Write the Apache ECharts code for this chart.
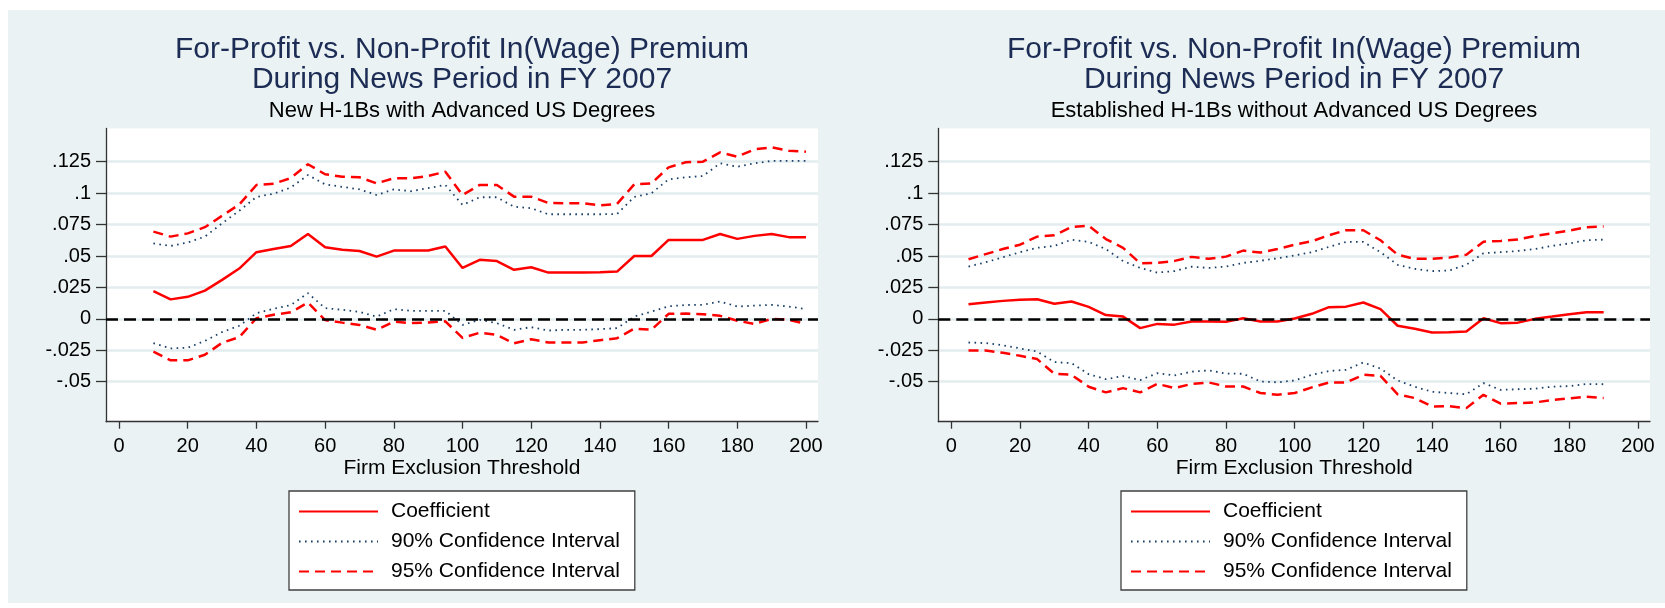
<!DOCTYPE html>
<html>
<head>
<meta charset="utf-8">
<script src="https://cdn.jsdelivr.net/npm/echarts@6/dist/echarts.min.js"></script>
<style>
  html, body { margin: 0; padding: 0; background: #fff; }
  #bg { position: absolute; left: 8px; top: 10px; width: 1657px; height: 593px; background: #eaf2f3; }
  #chart { position: absolute; left: 0; top: 0; width: 1665px; height: 608px; }
</style>
</head>
<body>
<div id="bg"></div>
<div id="chart"></div>
<script>
// thresholds and estimates
const leftX = [10, 15, 20, 25, 30, 35, 40, 45, 50, 55, 60, 65, 70, 75, 80, 85, 90, 95, 100, 105,
  110, 115, 120, 125, 130, 135, 140, 145, 150, 155, 160, 165, 170, 175, 180, 185, 190, 195, 200];
const leftCoef = [0.022, 0.0155, 0.0175, 0.0225, 0.031, 0.040, 0.053, 0.0555, 0.058, 0.0675,
  0.057, 0.055, 0.054, 0.0495, 0.0543, 0.0543, 0.0543, 0.0575, 0.0405, 0.047,
  0.046, 0.039, 0.041, 0.0368, 0.0368, 0.0368, 0.037, 0.0376, 0.05, 0.05,
  0.0628, 0.0628, 0.0628, 0.0675, 0.0636, 0.066, 0.0675, 0.065, 0.065];
const leftHi95 = [0.0694, 0.0654, 0.068, 0.0729, 0.082, 0.091, 0.1065, 0.1075, 0.112, 0.123,
  0.115, 0.113, 0.1126, 0.1078, 0.1118, 0.1118, 0.1136, 0.117, 0.0985, 0.1065,
  0.1065, 0.0972, 0.0972, 0.0922, 0.092, 0.0919, 0.0903, 0.0914, 0.107, 0.1078,
  0.1205, 0.1245, 0.125, 0.1324, 0.129, 0.1348, 0.1364, 0.1337, 0.133];
const leftLo95 = [-0.026, -0.033, -0.033, -0.0286, -0.019, -0.0145, 0.0005, 0.0033, 0.0052, 0.013,
  -0.001, -0.003, -0.0048, -0.0087, -0.0022, -0.0034, -0.0029, -0.002, -0.0152, -0.011,
  -0.0127, -0.0195, -0.0162, -0.0188, -0.0188, -0.0188, -0.017, -0.0154, -0.0078, -0.0087,
  0.004, 0.0042, 0.0037, 0.0024, -0.0015, -0.004, 0, -0.0008, -0.004];
const leftHi90 = [0.060, 0.058, 0.0607, 0.0654, 0.076, 0.086, 0.097, 0.0995, 0.1045, 0.1144,
  0.107, 0.105, 0.103, 0.0985, 0.103, 0.1015, 0.104, 0.1065, 0.0906, 0.0967,
  0.0967, 0.0892, 0.088, 0.0832, 0.0832, 0.0832, 0.0832, 0.0834, 0.097, 0.0999,
  0.111, 0.1126, 0.1136, 0.1237, 0.121, 0.1237, 0.1256, 0.1256, 0.1256];
const leftLo90 = [-0.0193, -0.0235, -0.023, -0.0175, -0.0105, -0.0055, 0.0045, 0.008, 0.011, 0.0204,
  0.0085, 0.0072, 0.0055, 0.0018, 0.0077, 0.0064, 0.0064, 0.0064, -0.0048, -0.0008,
  -0.0034, -0.0087, -0.0066, -0.0093, -0.0087, -0.0087, -0.0082, -0.0074, 0.0018, 0.0058,
  0.01, 0.011, 0.0112, 0.0138, 0.0098, 0.0105, 0.0111, 0.0098, 0.0077];

const rightX = [5, 10, 15, 20, 25, 30, 35, 40, 45, 50, 55, 60, 65, 70, 75, 80, 85, 90, 95, 100,
  105, 110, 115, 120, 125, 130, 135, 140, 145, 150, 155, 160, 165, 170, 175, 180, 185, 190];
const rightCoef = [0.0117, 0.013, 0.0143, 0.0152, 0.0156, 0.012, 0.0138, 0.0095, 0.003, 0.0018,
  -0.0074, -0.004, -0.0046, -0.0021, -0.0021, -0.0024, 0.0005, -0.0021, -0.0021, 0.0003,
  0.004, 0.0093, 0.0097, 0.013, 0.0077, -0.0055, -0.0079, -0.0108, -0.0106, -0.0101,
  0.0005, -0.0034, -0.003, 0, 0.0018, 0.0037, 0.0053, 0.0053];
const rightHi95 = [0.0474, 0.0515, 0.0555, 0.059, 0.0654, 0.0665, 0.073, 0.074, 0.0635, 0.0565,
  0.0442, 0.0445, 0.0461, 0.0493, 0.0478, 0.0495, 0.0543, 0.0527, 0.0555, 0.059,
  0.0617, 0.0665, 0.0705, 0.0705, 0.0625, 0.051, 0.0477, 0.0478, 0.0487, 0.051,
  0.0614, 0.062, 0.0632, 0.066, 0.068, 0.0702, 0.0729, 0.0734];
const rightLo95 = [-0.0252, -0.0252, -0.027, -0.0294, -0.032, -0.0437, -0.0445, -0.054, -0.0585, -0.0551,
  -0.0585, -0.0517, -0.0551, -0.0517, -0.0506, -0.0538, -0.0538, -0.059, -0.0604, -0.059,
  -0.0545, -0.0506, -0.0506, -0.0445, -0.0453, -0.06, -0.063, -0.0697, -0.0695, -0.071,
  -0.0604, -0.0675, -0.067, -0.0665, -0.0645, -0.0632, -0.062, -0.063];
const rightHi90 = [0.0416, 0.045, 0.049, 0.053, 0.0565, 0.058, 0.063, 0.0612, 0.0555, 0.046,
  0.0405, 0.0368, 0.038, 0.0415, 0.0405, 0.0416, 0.0445, 0.0462, 0.0482, 0.0505,
  0.053, 0.0573, 0.0612, 0.0612, 0.053, 0.043, 0.0398, 0.038, 0.0385, 0.043,
  0.0522, 0.053, 0.054, 0.0556, 0.058, 0.06, 0.0625, 0.063];
const rightLo90 = [-0.0188, -0.0193, -0.021, -0.0235, -0.026, -0.0344, -0.0352, -0.044, -0.048, -0.0455,
  -0.0487, -0.0432, -0.045, -0.042, -0.041, -0.0435, -0.0437, -0.0498, -0.0505, -0.049,
  -0.0445, -0.0415, -0.0405, -0.0347, -0.0395, -0.049, -0.054, -0.058, -0.059, -0.06,
  -0.0511, -0.0565, -0.056, -0.0555, -0.054, -0.0535, -0.0518, -0.052];

const xTicks = [0, 20, 40, 60, 80, 100, 120, 140, 160, 180, 200];
const yTicks = [-0.05, -0.025, 0, 0.025, 0.05, 0.075, 0.1, 0.125];
const legendNames = ['Coefficient', '90% Confidence Interval', '95% Confidence Interval'];
const mainTitle = 'For-Profit vs. Non-Profit In(Wage) Premium\nDuring News Period in FY 2007';
const subTitles = ['New H-1Bs with Advanced US Degrees', 'Established H-1Bs without Advanced US Degrees'];

const FONT = "'Liberation Sans', Arial, sans-serif";
const AXIS_COLOR = '#333';

function pairs(xs, ys) {
  return xs.map((x, i) => [x, ys[i]]);
}

function yLabel(v) {
  if (v === 0) return '0';
  return String(v).replace('0.', '.');
}

function makeX(g) {
  return {
    type: 'value', gridIndex: g, min: -3.8, max: 203.5,
    axisLine: { show: true, onZero: false, lineStyle: { color: AXIS_COLOR, width: 1.3 } },
    axisTick: { show: true, length: 7, customValues: xTicks, lineStyle: { color: AXIS_COLOR, width: 1.3 } },
    axisLabel: { customValues: xTicks, margin: 15, fontSize: 20, color: '#000', fontFamily: FONT },
    splitLine: { show: false },
    name: 'Firm Exclusion Threshold', nameLocation: 'middle', nameGap: 32,
    nameTextStyle: { fontSize: 21, color: '#000', fontFamily: FONT }
  };
}

function makeY(g) {
  return {
    type: 'value', gridIndex: g, min: -0.0818, max: 0.1514,
    axisLine: { show: true, onZero: false, lineStyle: { color: AXIS_COLOR, width: 1.3 } },
    axisTick: { show: true, length: 10, customValues: yTicks, lineStyle: { color: AXIS_COLOR, width: 1.3 } },
    axisLabel: { customValues: yTicks, margin: 15, fontSize: 20, color: '#000', fontFamily: FONT, formatter: yLabel },
    splitLine: { show: true, lineStyle: { color: '#e3ecef', width: 2.5 } }
  };
}

function makeSeries(g, xs, coef, hi90, lo90, hi95, lo95) {
  const base = { type: 'line', xAxisIndex: g, yAxisIndex: g, symbol: 'none', silent: true };
  const dotted = { color: '#1a3f66', width: 1.8, type: [1.6, 4.4] };
  const dashed = { color: '#ff0000', width: 2.5, type: [10, 6] };
  return [
    Object.assign({}, base, { name: '90% Confidence Interval', data: pairs(xs, hi90), lineStyle: dotted, itemStyle: { color: '#1a3f66' } }),
    Object.assign({}, base, { name: '90% Confidence Interval', data: pairs(xs, lo90), lineStyle: dotted, itemStyle: { color: '#1a3f66' } }),
    Object.assign({}, base, { name: '95% Confidence Interval', data: pairs(xs, hi95), lineStyle: dashed, itemStyle: { color: '#ff0000' } }),
    Object.assign({}, base, { name: '95% Confidence Interval', data: pairs(xs, lo95), lineStyle: dashed, itemStyle: { color: '#ff0000' } }),
    Object.assign({}, base, {
      name: 'Coefficient', data: pairs(xs, coef),
      lineStyle: { color: '#ff0000', width: 2.5 }, itemStyle: { color: '#ff0000' },
      markLine: {
        silent: true, symbol: 'none', label: { show: false },
        lineStyle: { color: '#000', width: 2.5, type: [12, 6] },
        data: [{ yAxis: 0 }]
      }
    })
  ];
}

function makeTitles(cx, sub) {
  return [
    { text: mainTitle, left: cx, top: 34, textAlign: 'center', padding: 0,
      textStyle: { fontSize: 30, lineHeight: 30.5, fontWeight: 'normal', color: '#1c2c54', fontFamily: FONT } },
    { text: sub, left: cx, top: 100, textAlign: 'center', padding: 0,
      textStyle: { fontSize: 22, lineHeight: 22, fontWeight: 'normal', color: '#000', fontFamily: FONT } }
  ];
}

function makeLegend(left) {
  return {
    left: left, top: 491, orient: 'vertical', data: legendNames, selectedMode: false,
    itemWidth: 79, itemHeight: 14, itemGap: 9, padding: [10, 15, 8, 9],
    backgroundColor: '#fff', borderColor: '#404040', borderWidth: 1.3, borderRadius: 0,
    itemStyle: { opacity: 0 },
    textStyle: { fontSize: 21, lineHeight: 21, color: '#000', fontFamily: FONT, padding: [0, 0, 0, 8] }
  };
}

const chart = echarts.init(document.getElementById('chart'), null, { renderer: 'canvas' });

chart.setOption({
  animation: false,
  title: makeTitles(462, subTitles[0]).concat(makeTitles(1294, subTitles[1])),
  legend: [makeLegend(289), makeLegend(1121)],
  grid: [
    { left: 106, top: 128.5, width: 712, height: 293.2, show: true, backgroundColor: '#fff', borderWidth: 0, containLabel: false },
    { left: 938.3, top: 128.5, width: 711.7, height: 293.2, show: true, backgroundColor: '#fff', borderWidth: 0, containLabel: false }
  ],
  xAxis: [makeX(0), makeX(1)],
  yAxis: [makeY(0), makeY(1)],
  series: makeSeries(0, leftX, leftCoef, leftHi90, leftLo90, leftHi95, leftLo95)
    .concat(makeSeries(1, rightX, rightCoef, rightHi90, rightLo90, rightHi95, rightLo95))
});
</script>
</body>
</html>
